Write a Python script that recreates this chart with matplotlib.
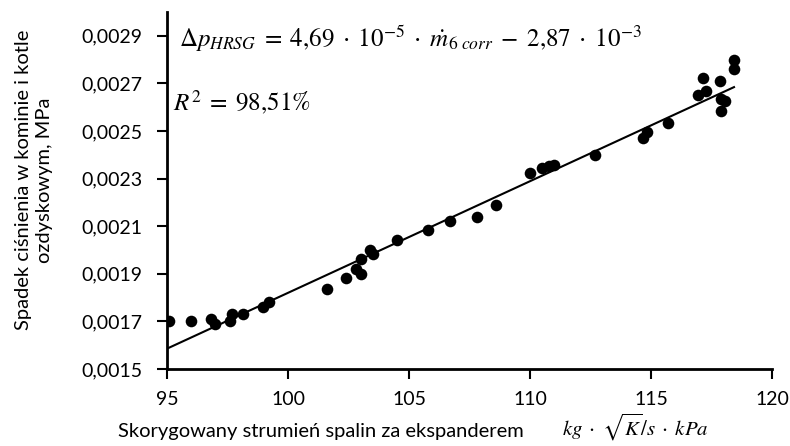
import matplotlib
matplotlib.use("Agg")
import matplotlib.pyplot as plt
import numpy as np

x_vals = [95.1, 96.0, 96.8, 97.0, 97.6, 97.67, 98.13, 98.95, 99.23,
          101.6, 102.4, 102.8, 103.0, 103.0, 103.4, 103.5, 104.5, 105.8,
          106.7, 107.8, 108.6, 110.0, 110.5, 110.8, 111.0,
          112.7, 114.66, 114.85, 115.7, 116.95, 117.26, 117.16, 117.85,
          117.88, 118.06, 117.88, 118.43, 118.43]
y_vals = [0.00170, 0.00170, 0.00171, 0.00169, 0.00170, 0.00173, 0.00173, 0.00176, 0.00178,
          0.001836, 0.001882, 0.00192, 0.00190, 0.001964, 0.002001, 0.001983, 0.002043, 0.002085,
          0.002123, 0.00214, 0.002189, 0.002325, 0.002345, 0.002355, 0.002357,
          0.00240, 0.00247, 0.002495, 0.002534, 0.002652, 0.002668, 0.002722, 0.00271,
          0.002635, 0.002624, 0.002586, 0.00280, 0.002759]

slope = 4.69e-5
intercept = -2.87e-3

x_ticks = [95, 100, 105, 110, 115, 120]
y_ticks = [0.0015, 0.0017, 0.0019, 0.0021, 0.0023, 0.0025, 0.0027, 0.0029]
y_tick_labels = ["0,0015", "0,0017", "0,0019", "0,0021", "0,0023", "0,0025", "0,0027", "0,0029"]

plt.rcParams['font.family'] = ['Lato', 'DejaVu Sans']
plt.rcParams['mathtext.fontset'] = 'stix'

W, H = 790, 446
fig = plt.figure(figsize=(7.9, 4.46), dpi=100)
ax = fig.add_axes([167/W, 1 - 369/H, (772-167)/W, (369-12)/H])

ax.scatter(x_vals, y_vals, s=70, color='black', zorder=3, linewidths=0)
xl = np.array([95.0, max(x_vals)])
ax.plot(xl, slope * xl + intercept, color='black', lw=1.5, zorder=2)

ax.set_xlim(95, 120)
ax.set_ylim(0.0015, 0.0030)
ax.set_xticks(x_ticks)
ax.set_xticklabels([str(t) for t in x_ticks])
ax.set_yticks(y_ticks)
ax.set_yticklabels(y_tick_labels)
ax.tick_params(axis='both', labelsize=14, length=7, width=1.5, direction='out', color='black')
ax.tick_params(axis='y', pad=11)
ax.tick_params(axis='x', pad=9)
for s in ['top', 'right']:
    ax.spines[s].set_visible(False)
for s in ['left', 'bottom']:
    ax.spines[s].set_linewidth(2)

fig.text(179/W, 1 - 47/H,
         r"$\Delta p_{HRSG}\;=\;4{,}69\;\cdot\;10^{-5}\;\cdot\;\dot{m}_{6\ corr}\;-\;2{,}87\;\cdot\;10^{-3}$",
         fontsize=18, va='baseline', ha='left')
fig.text(173/W, 1 - 111/H, r"$R^2\;=\;98{,}51\%$",
         fontsize=18, va='baseline', ha='left')

fig.text(321/W, 1 - 431/H, "Skorygowany strumień spalin za ekspanderem", fontsize=14.5,
         ha='center', va='center')
fig.text(635/W, 1 - 436/H, r"$kg\;\cdot\;\sqrt{K}/s\;\cdot\;kPa$", fontsize=15,
         ha='center', va='baseline')
fig.text(34/W, 1 - 180/H, "Spadek ciśnienia w kominie i kotle\nozdyskowym, MPa", fontsize=14.5,
         ha='center', va='center', rotation=90, linespacing=1.3)

fig.savefig("out.png", dpi=100)
